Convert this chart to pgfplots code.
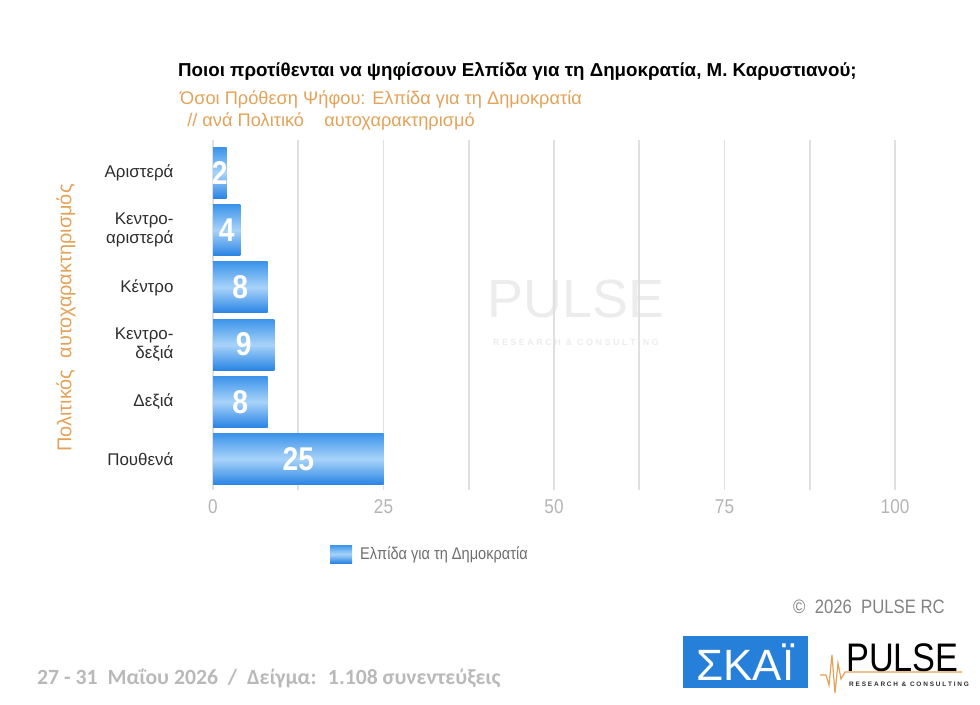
\documentclass[border=0pt]{standalone}
\usepackage{pgfplots}
\pgfplotsset{compat=1.18}
\usepackage{pgfplotstable}
\usepackage{fontspec}
\setmainfont{Liberation Sans}
\newfontfamily\cond[FakeStretch=0.86]{Liberation Sans}
\newfontfamily\carlito{Carlito}
\definecolor{orng}{RGB}{228,162,88}
\definecolor{gridgray}{RGB}{224,224,224}
\definecolor{tickgray}{RGB}{180,180,180}
\definecolor{darktext}{RGB}{45,45,45}
\definecolor{legendgray}{RGB}{110,110,110}
\definecolor{footgray}{RGB}{185,185,185}
\definecolor{copygray}{RGB}{130,130,130}
\definecolor{bartop}{RGB}{60,148,234}
\definecolor{barmid}{RGB}{168,211,249}
\definecolor{barbot}{RGB}{40,132,228}
\definecolor{skai}{RGB}{38,128,218}
\definecolor{wm}{RGB}{236,236,236}

\pgfplotstableread{
idx v
5 2
4 4
3 8
2 9
1 8
0 25
}\datatable

\begin{document}
\begin{tikzpicture}[x=1bp,y=1bp]
\path (0,0) rectangle (980,705);
% watermark
\node[text=wm, font=\fontsize{54}{54}\selectfont, anchor=base] at (576,387) {PULSE};
\node[text=wm, font=\bfseries\fontsize{9}{9}\selectfont, anchor=base] at (576,359) {R E S E A R C H \ \& \ C O N S U L T I N G};
% titles
\node[anchor=base west, inner sep=0pt, font=\bfseries\fontsize{18.8}{18.8}\selectfont, text=black] at (178,628) {Ποιοι προτίθενται να ψηφίσουν Ελπίδα για τη Δημοκρατία, Μ. Καρυστιανού;};
\node[anchor=base west, inner sep=0pt, font=\fontsize{18.3}{18.3}\selectfont, text=orng] at (180,600) {Όσοι Πρόθεση Ψήφου: Ελπίδα για τη Δημοκρατία};
\node[anchor=base west, inner sep=0pt, font=\fontsize{18.3}{18.3}\selectfont, text=orng] at (182,578) {\ // ανά Πολιτικό \ \ \ αυτοχαρακτηρισμό};
% y label
\node[rotate=90, inner sep=0pt, font=\fontsize{20}{20}\selectfont, text=orng] at (66,387) {Πολιτικός \ αυτοχαρακτηρισμός};
\begin{axis}[
  at={(213bp,215bp)}, anchor=south west,
  scale only axis, width=682bp, height=350bp,
  xmin=0, xmax=100, ymin=-0.54, ymax=5.577,
  axis line style={draw=none},
  xtick={0,25,50,75,100},
  minor xtick={12.5,37.5,62.5,87.5},
  xmajorgrids, xminorgrids,
  major grid style={color=gridgray, line width=1.6bp},
  minor grid style={color=gridgray, line width=1.6bp},
  major tick length=0pt, minor tick length=0pt,
  ytick={0,1,2,3,4,5},
  yticklabels={Πουθενά, Δεξιά, {Κεντρο-\\δεξιά}, Κέντρο, {Κεντρο-\\αριστερά}, Αριστερά},
  yticklabel style={align=right, font=\fontsize{17}{19}\selectfont, text=darktext, xshift=-36bp},
  xticklabel style={font=\cond\fontsize{20}{20}\selectfont, text=tickgray, yshift=-6bp},
  /pgf/number format/assume math mode=true,
  legend style={at={(axis description cs:0.1716,-0.183)}, anchor=west, draw=none, fill=none,
     font=\cond\fontsize{17}{17}\selectfont, text=legendgray, inner sep=0pt, column sep=6bp},
  legend image code/.code={\shade[top color=bartop, bottom color=barbot, middle color=barmid] (0bp,-9bp) rectangle (22bp,9bp);},
  clip=false,
  onebar/.style={xbar, bar width=0.89, bar shift=0pt, draw=none, top color=bartop, bottom color=barbot, middle color=barmid},
]
\addplot[onebar] coordinates {(25,0)};
\addlegendentry{Ελπίδα για τη Δημοκρατία}
\addplot[onebar, forget plot] coordinates {(8,1)};
\addplot[onebar, forget plot] coordinates {(9,2)};
\addplot[onebar, forget plot] coordinates {(8,3)};
\addplot[onebar, forget plot] coordinates {(4,4)};
\addplot[onebar, forget plot] coordinates {(2,5)};
\addplot[only marks, mark=*, mark size=0pt, mark options={draw=none, fill=none},
  nodes near coords, point meta=explicit,
  every node near coord/.style={anchor=center, text=white, font=\cond\bfseries\fontsize{33}{33}\selectfont},
  forget plot]
  table[x expr=\thisrow{v}/2, y=idx, meta=v] {\datatable};
\end{axis}
% copyright
\node[anchor=base west, inner sep=0pt, font=\cond\fontsize{19.5}{19.5}\selectfont, text=copygray] at (793,91) {© \ 2026 \ PULSE RC};
% footer
\node[anchor=base west, inner sep=0pt, font=\carlito\bfseries\fontsize{21.8}{21.8}\selectfont, text=footgray] at (37,20) {27 - 31 \ Μαΐου 2026 \ / \ Δείγμα: \ 1.108 συνεντεύξεις};
% SKAI logo
\fill[skai] (683,17) rectangle (808,69);
\node[text=white, font=\fontsize{44}{44}\selectfont, inner sep=0pt] at (745.5,43) {ΣΚΑΪ};
% PULSE logo
\node[anchor=base west, inner sep=0pt, font=\cond\fontsize{40}{40}\selectfont, text=black] at (846,33) {PULSE};
\draw[orng, line width=1.2bp] (820,30) -- (826,30) -- (829,20) -- (832,50) -- (835,12) -- (838,42) -- (841,26) -- (845,33) -- (962,33);
\node[anchor=base west, inner sep=0pt, font=\bfseries\fontsize{6.5}{6.5}\selectfont, text=darktext] at (849,18) {R E S E A R C H \ \& \ C O N S U L T I N G};
\end{tikzpicture}
\end{document}
